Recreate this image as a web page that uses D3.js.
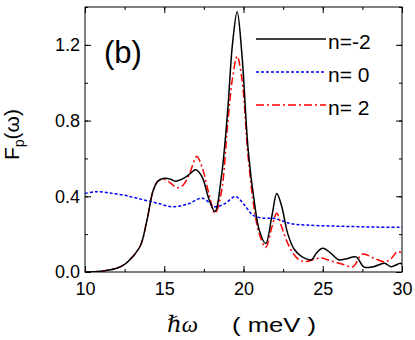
<!DOCTYPE html>
<html>
<head>
<meta charset="utf-8">
<script src="https://cdn.jsdelivr.net/npm/d3@7"></script>
<style>
  body { margin: 0; background: #fff; }
  svg { display: block; font-family: 'Liberation Sans', Arial, sans-serif; }
</style>
</head>
<body>
<svg id="chart"></svg>
<script>
// n=-2 (solid black)
const nm2E = [10, 11, 11.5, 12, 12.5, 13, 13.5, 13.9, 14.3, 14.6, 15, 15.4, 15.7, 16.1, 16.5, 17, 17.4, 17.8, 18.2, 18.6, 19, 19.3, 19.6, 19.9, 20.3, 20.7, 21, 21.4, 21.8, 22.1, 22.4, 22.8, 23.2, 23.7, 24.3, 24.6, 25, 25.5, 26, 26.5, 27.1, 27.6, 28.2, 28.9, 29.3, 29.9, 30];
const nm2F = [0, 0.004, 0.01, 0.02, 0.04, 0.08, 0.14, 0.27, 0.43, 0.48, 0.495, 0.49, 0.48, 0.49, 0.51, 0.54, 0.5, 0.39, 0.32, 0.5, 0.85, 1.2, 1.375, 1.15, 0.64, 0.36, 0.22, 0.15, 0.3, 0.415, 0.35, 0.2, 0.12, 0.08, 0.065, 0.1, 0.125, 0.1, 0.065, 0.07, 0.08, 0.026, 0.028, 0.046, 0.028, 0.046, 0.04];

// n=0 (dotted blue)
const n0E = [10, 10.7, 11.5, 12.5, 13.5, 14.5, 15.5, 16.5, 17.4, 18.2, 18.8, 19.5, 20, 20.6, 21.2, 22, 23, 24, 25.5, 27, 28.5, 30];
const n0F = [0.415, 0.424, 0.418, 0.405, 0.385, 0.365, 0.345, 0.36, 0.39, 0.345, 0.36, 0.398, 0.36, 0.3, 0.285, 0.283, 0.255, 0.248, 0.243, 0.24, 0.237, 0.236];

// n=2 (dash-dot red)
const n2E = [10, 11, 11.5, 12, 12.5, 13, 13.5, 13.9, 14.3, 14.6, 15, 15.4, 15.8, 16.2, 16.6, 17.05, 17.4, 17.8, 18.2, 18.6, 19, 19.3, 19.6, 19.9, 20.3, 20.7, 21, 21.4, 21.8, 22.1, 22.4, 22.8, 23.2, 23.6, 24, 24.4, 24.9, 25.3, 25.7, 26.3, 26.9, 27.5, 28.2, 28.9, 29.3, 29.7, 30];
const n2F = [0, 0.004, 0.01, 0.02, 0.04, 0.08, 0.14, 0.27, 0.43, 0.48, 0.49, 0.47, 0.445, 0.46, 0.52, 0.61, 0.55, 0.42, 0.31, 0.42, 0.78, 1.02, 1.14, 1.02, 0.6, 0.32, 0.2, 0.13, 0.24, 0.31, 0.24, 0.15, 0.09, 0.06, 0.055, 0.065, 0.074, 0.065, 0.054, 0.04, 0.028, 0.095, 0.074, 0.054, 0.07, 0.107, 0.1];

const xTicks = [10, 15, 20, 25, 30];
const yTicks = [0, 0.4, 0.8, 1.2];
const legendLabels = ['n=-2', 'n= 0', 'n= 2'];

const width = 415;
const height = 340;
const margin = { top: 7, right: 13, bottom: 68, left: 85 };
const iw = width - margin.left - margin.right;
const ih = height - margin.top - margin.bottom;

const svg = d3.select('#chart').attr('width', width).attr('height', height);
const g = svg.append('g').attr('transform', `translate(${margin.left},${margin.top})`);

const x = d3.scaleLinear().domain([10, 30]).range([0, iw]);
const y = d3.scaleLinear().domain([0, 1.4]).range([ih, 0]);

const xMinor = d3.range(10, 30.01, 2.5);
const yMinor = d3.range(0, 1.41, 0.2);

const styleAxis = (ax) => {
  ax.select('.domain').remove();
  ax.selectAll('line').attr('stroke', '#000');
  ax.selectAll('text').attr('font-size', 18).attr('fill', '#000');
};

// bottom
g.append('g').attr('transform', `translate(0,${ih})`)
  .call(d3.axisBottom(x).tickValues(xMinor).tickSize(-3).tickFormat(''))
  .call(styleAxis);
g.append('g').attr('transform', `translate(0,${ih})`)
  .call(d3.axisBottom(x).tickValues(xTicks).tickSize(-6).tickPadding(10).tickFormat(d3.format('d')))
  .call(styleAxis);
// top
g.append('g')
  .call(d3.axisTop(x).tickValues(xMinor).tickSize(-3).tickFormat(''))
  .call(styleAxis);
g.append('g')
  .call(d3.axisTop(x).tickValues(xTicks).tickSize(-6).tickFormat(''))
  .call(styleAxis);
// left
g.append('g')
  .call(d3.axisLeft(y).tickValues(yMinor).tickSize(-3).tickFormat(''))
  .call(styleAxis);
g.append('g')
  .call(d3.axisLeft(y).tickValues(yTicks).tickSize(-6).tickPadding(5).tickFormat(d3.format('.1f')))
  .call(styleAxis);
// right
g.append('g').attr('transform', `translate(${iw},0)`)
  .call(d3.axisRight(y).tickValues(yMinor).tickSize(-3).tickFormat(''))
  .call(styleAxis);
g.append('g').attr('transform', `translate(${iw},0)`)
  .call(d3.axisRight(y).tickValues(yTicks).tickSize(-6).tickFormat(''))
  .call(styleAxis);

g.append('rect')
  .attr('width', iw).attr('height', ih)
  .attr('fill', 'none').attr('stroke', '#000').attr('stroke-width', 1);

const series = [
  { label: legendLabels[0], e: nm2E, f: nm2F, color: '#000', dash: null },
  { label: legendLabels[1], e: n0E, f: n0F, color: '#0000ff', dash: '3,2' },
  { label: legendLabels[2], e: n2E, f: n2F, color: '#ff0000', dash: '8,3,2,3' },
];

const line = d3.line()
  .curve(d3.curveCatmullRom.alpha(0.5))
  .x((d) => x(d[0]))
  .y((d) => y(d[1]));

svg.append('clipPath').attr('id', 'clip')
  .append('rect').attr('width', iw).attr('height', ih);

const plot = g.append('g').attr('clip-path', 'url(#clip)');
[series[1], series[2], series[0]].forEach((s) => {
  plot.append('path')
    .datum(s.e.map((e, i) => [e, s.f[i]]))
    .attr('fill', 'none')
    .attr('stroke', s.color)
    .attr('stroke-width', 1.5)
    .attr('stroke-dasharray', s.dash)
    .attr('d', line);
});

// Legend
const legend = svg.append('g');
series.forEach((s, i) => {
  const ly = 39 + i * 33;
  legend.append('line')
    .attr('x1', 256).attr('x2', 326)
    .attr('y1', ly).attr('y2', ly)
    .attr('stroke', s.color)
    .attr('stroke-width', 1.5)
    .attr('stroke-dasharray', s.dash);
  legend.append('text')
    .attr('x', 328).attr('y', ly + 10)
    .attr('font-size', 21)
    .text(s.label);
});

// Panel label
svg.append('text')
  .attr('x', 104).attr('y', 63)
  .attr('font-size', 31)
  .text('(b)');

// Y label
const yl = svg.append('text')
  .attr('transform', 'translate(18.5,160) rotate(-90)')
  .attr('font-size', 21);
yl.append('tspan').text('F');
yl.append('tspan').attr('font-size', 14).attr('dy', 5).text('p');
yl.append('tspan').attr('dy', -5).text('(ω)');

// X label
svg.append('text')
  .attr('x', 167).attr('y', 332)
  .attr('font-family', "'Liberation Serif', 'DejaVu Serif', serif")
  .attr('font-style', 'italic')
  .attr('font-size', 23)
  .text('ℏω');
svg.append('text')
  .attr('x', 232).attr('y', 332)
  .attr('font-size', 20)
  .attr('textLength', 84)
  .attr('lengthAdjust', 'spacingAndGlyphs')
  .text('( meV )');
</script>
</body>
</html>
